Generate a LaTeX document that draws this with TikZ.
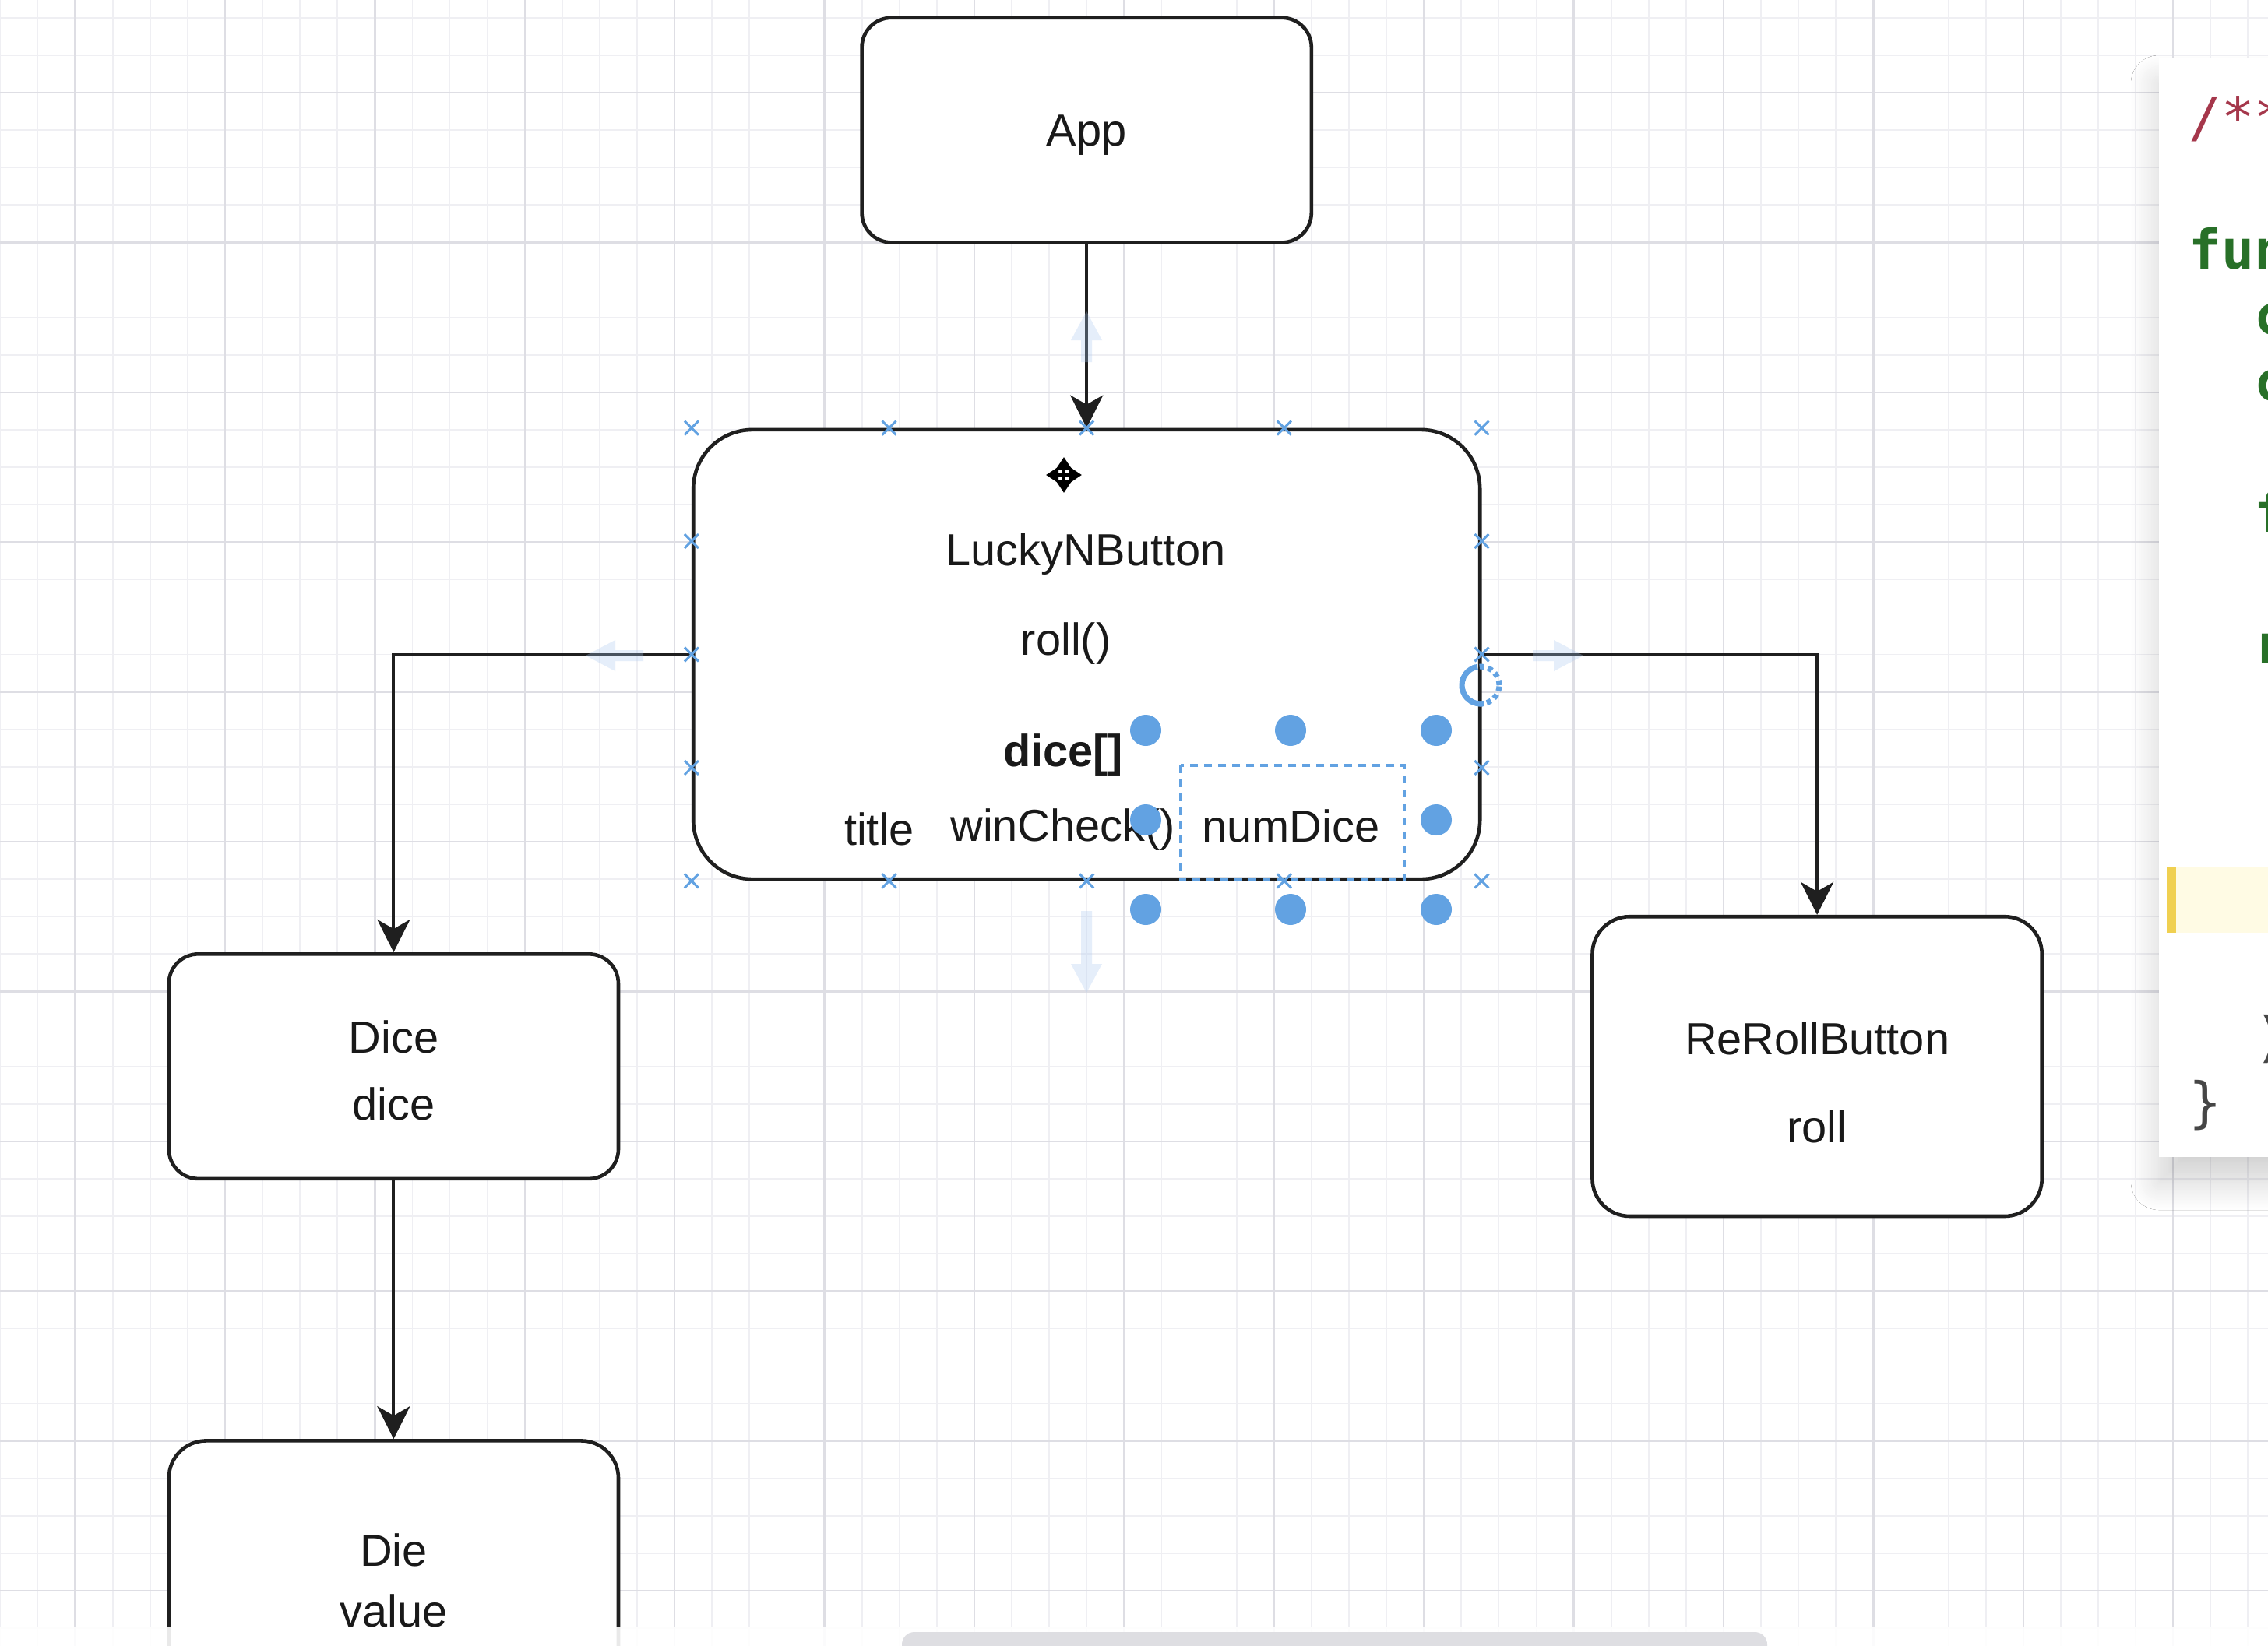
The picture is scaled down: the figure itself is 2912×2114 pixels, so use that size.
\documentclass[tikz,border=0pt]{standalone}
\usepackage{fontspec}
\setmainfont{Liberation Sans}
\newfontfamily\codefont{DejaVu Sans Mono}
\usetikzlibrary{arrows.meta,calc,shadows.blur}
\definecolor{gridminor}{RGB}{239,239,243}
\definecolor{gridmajor}{RGB}{222,222,228}
\definecolor{selblue}{RGB}{98,162,226}
\definecolor{hoverblue}{RGB}{170,200,240}
\definecolor{codegreen}{RGB}{40,112,40}
\definecolor{codered}{RGB}{165,55,75}
\definecolor{codegray}{RGB}{70,70,70}
\definecolor{hlyellow}{RGB}{255,251,228}
\definecolor{hlbar}{RGB}{240,208,80}
\definecolor{scrollgray}{RGB}{222,222,226}
\begin{document}
\begin{tikzpicture}[x=0.5pt,y=-0.5pt,
  box/.style={draw=black!88, line width=2.3pt, fill=white, inner sep=0pt},
  lbl/.style={inner sep=0pt, anchor=base, font=\fontsize{28.86pt}{34.6pt}\selectfont, text=black!90},
  conn/.style={draw=black!88, line width=2pt, -{Stealth[length=21pt,width=21pt,inset=6pt]}},
  cpt/.style={selblue, line width=1.5pt},
  code/.style={inner sep=0pt, anchor=base west, font=\codefont\fontsize{35pt}{42pt}\selectfont},
  kw/.style={code, text=codegreen, font=\codefont\bfseries\fontsize{35pt}{42pt}\selectfont},
  hover/.style={fill=hoverblue, opacity=0.3, draw=none},
]
\useasboundingbox (0,0) rectangle (2912,2114);
\clip (0,0) rectangle (2912,2114);
\fill[white] (0,0) rectangle (2912,2114);
% grid
\foreach \k in {-2,...,58} \draw[gridminor,line width=0.9pt] ({96.5+48.1*\k},0) -- ({96.5+48.1*\k},2114);
\foreach \k in {0,...,43} \draw[gridminor,line width=0.9pt] (0,{22.8+48.1*\k}) -- (2912,{22.8+48.1*\k});
\foreach \k in {0,4,...,56} \draw[gridmajor,line width=1.2pt] ({96.5+48.1*\k},0) -- ({96.5+48.1*\k},2114);
\foreach \k in {2,6,...,42} \draw[gridmajor,line width=1.2pt] (0,{22.8+48.1*\k}) -- (2912,{22.8+48.1*\k});

% code panel
\fill[white, blur shadow={shadow xshift=0pt,shadow yshift=-16pt,shadow blur radius=18pt,shadow blur steps=20,shadow opacity=18}] (2772,75) rectangle (3000,1486);
\fill[hlyellow] (2782,1114) rectangle (2912,1198);
\fill[hlbar] (2782,1114) rectangle (2794,1198);
\node[code, text=codered] (c0) at (2810,176) {/**};
\node[kw] (c2) at (2810,345) {fun};
\node[kw] (c3) at (2894,429.5) {c};
\node[kw] (c4) at (2894,514) {c};
\node[kw] (c6) at (2894,683) {f};
\node[kw] (c8) at (2894,852) {r};
\node[code, text=codegray] (c14) at (2894,1356) {)};
\node[code, text=codegray] (c15) at (2810,1440) {\}};

% boxes
\node[box, rounded corners=19pt, minimum width=288.6pt, minimum height=144.3pt] (app) at (1395.2,167.1) {};
\node[box, rounded corners=38pt, minimum width=505pt, minimum height=288.6pt] (lucky) at (1395.2,840.5) {};
\node[box, rounded corners=19pt, minimum width=288.6pt, minimum height=144.3pt] (dice) at (505.4,1369.6) {};
\node[box, rounded corners=24pt, minimum width=288.6pt, minimum height=192.4pt] (reroll) at (2333.1,1369.6) {};
\node[box, rounded corners=24pt, minimum width=288.6pt, minimum height=192.4pt] (die) at (505.4,2042.8) {};

% connectors
\draw[conn] (app.south) -- (lucky.north);
\draw[conn] (lucky.west) -| (dice.north);
\draw[conn] (lucky.east) -| (reroll.north);
\draw[conn] (dice.south) -- (die.north);

% labels
\node[lbl] (tapp) at (1395.2,187) {App};
\node[lbl] (tlucky) at (1394,726) {LuckyNButton};
\node[lbl] (troll) at (1368.6,841) {roll()};
\node[lbl, font=\bfseries\fontsize{28.86pt}{34.6pt}\selectfont] (tdicearr) at (1365,984) {dice[]};
\node[lbl] (ttitle) at (1129,1085) {title};
\node[lbl, anchor=base west] (twin) at (1220,1080) {winCheck()};
\node[lbl] (tnum) at (1657.5,1081) {numDice};
\node[lbl] (tdice1) at (505.4,1352) {Dice};
\node[lbl] (tdice2) at (505.4,1438) {dice};
\node[lbl] (trr1) at (2333.1,1354) {ReRollButton};
\node[lbl] (trr2) at (2333.1,1467) {roll};
\node[lbl] (tdie1) at (505.4,2011) {Die};
\node[lbl] (tdie2) at (505.4,2089) {value};

% connection points of the selected shape
\foreach \t in {0,0.25,0.5,0.75,1} {
  \draw[cpt] ($(lucky.north west)!\t!(lucky.north east)$) +(-9,-9) -- +(9,9) +(-9,9) -- +(9,-9);
  \draw[cpt] ($(lucky.south west)!\t!(lucky.south east)$) +(-9,-9) -- +(9,9) +(-9,9) -- +(9,-9);
}
\foreach \t in {0.25,0.5,0.75} {
  \draw[cpt] ($(lucky.north west)!\t!(lucky.south west)$) +(-9,-9) -- +(9,9) +(-9,9) -- +(9,-9);
  \draw[cpt] ($(lucky.north east)!\t!(lucky.south east)$) +(-9,-9) -- +(9,9) +(-9,9) -- +(9,-9);
}

% hover arrows (faint)
\fill[hover] (1388,465) -- (1388,437) -- (1375,437) -- (1395,400) -- (1415,437) -- (1402,437) -- (1402,465) -- cycle;
\fill[hover] (1388,1170) -- (1388,1238) -- (1375,1238) -- (1395,1275) -- (1415,1238) -- (1402,1238) -- (1402,1170) -- cycle;
\fill[hover] (826,835) -- (790,835) -- (790,822) -- (752,842) -- (790,862) -- (790,849) -- (826,849) -- cycle;
\fill[hover] (1968,835) -- (1995,835) -- (1995,822) -- (2033,842) -- (1995,862) -- (1995,849) -- (1968,849) -- cycle;

% selection of the text cell
\draw[selblue, line width=1.6pt, dash pattern=on 5pt off 4pt] (1516,983) rectangle (1803,1130);
\foreach \px/\py in {1471/938,1657/938,1844/938,1471/1053,1844/1053,1471/1168,1657/1168,1844/1168}
  \fill[selblue] (\px,\py) circle[radius=10pt];
% rotation handle
\draw[selblue, line width=3.5pt, dash pattern=on 3pt off 2.5pt] (1901,880) circle[radius=12pt];
\draw[selblue, line width=3.5pt] (1901,880) ++(100:12pt) arc[start angle=100,end angle=280,radius=12pt];

% move cursor
\foreach \a in {0,90,180,270}
  \draw[white, line width=4.5pt, -{Triangle[length=10pt,width=13pt]}] (1366,610) -- ++(\a:12.5pt);
\foreach \a in {0,90,180,270}
  \draw[black, line width=2.4pt, -{Triangle[length=8pt,width=10pt]}] (1366,610) -- ++(\a:11.5pt);

% bottom strip and scrollbar
\fill[white, opacity=0.9] (0,2090) rectangle (2912,2114);
\fill[scrollgray, rounded corners=8pt] (1158,2096) rectangle (2269,2150);
\end{tikzpicture}
\end{document}
